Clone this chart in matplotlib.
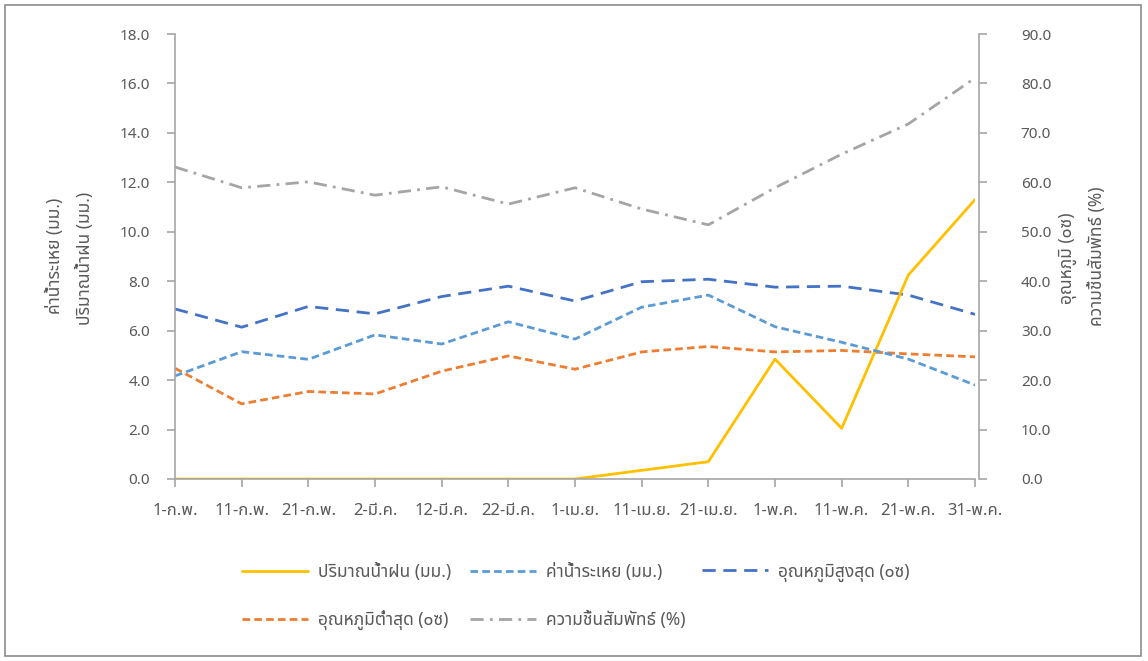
import matplotlib
matplotlib.use("Agg")
import matplotlib.pyplot as plt
from matplotlib import font_manager
from matplotlib.ft2font import FT2Font
from matplotlib.patches import Rectangle

# ---------------- data ----------------
dates = ["1-ก.พ.", "11-ก.พ.", "21-ก.พ.", "2-มี.ค.", "12-มี.ค.", "22-มี.ค.", "1-เม.ย.",
         "11-เม.ย.", "21-เม.ย.", "1-พ.ค.", "11-พ.ค.", "21-พ.ค.", "31-พ.ค."]
rain = [0.0, 0.0, 0.0, 0.0, 0.0, 0.0, 0.0, 0.35, 0.7, 4.85, 2.05, 8.25, 11.3]
evap = [4.17, 5.15, 4.84, 5.83, 5.46, 6.36, 5.66, 6.95, 7.44, 6.16, 5.53, 4.85, 3.8]
tmax = [34.4, 30.7, 34.9, 33.4, 36.9, 39.0, 36.0, 39.9, 40.4, 38.8, 39.0, 37.2, 33.3]
tmin = [22.4, 15.2, 17.7, 17.2, 21.8, 24.9, 22.2, 25.7, 26.8, 25.7, 26.0, 25.3, 24.7]
humid = [63.1, 58.9, 60.1, 57.4, 59.1, 55.6, 58.9, 54.6, 51.4, 58.9, 65.7, 71.8, 81.1]

left_ticks = [0, 2, 4, 6, 8, 10, 12, 14, 16, 18]
right_ticks = [0, 10, 20, 30, 40, 50, 60, 70, 80, 90]

lab_rain = "ปริมาณน้ำฝน (มม.)"
lab_evap = "ค่าน้ำระเหย (มม.)"
lab_tmax = "อุณหภูมิสูงสุด (๐ซ)"
lab_tmin = "อุณหภูมิต่ำสุด (๐ซ)"
lab_hum = "ความชื้นสัมพัทธ์ (%)"
ylab_left1 = "ค่าน้ำระเหย (มม.)"
ylab_left2 = "ปริมาณน้ำฝน (มม.)"
ylab_right1 = "อุณหภูมิ (๐ซ)"
ylab_right2 = "ความชื้นสัมพัทธ์ (%)"

# ---------------- font with Thai glyphs ----------------
def find_thai_family():
    prefs = []
    for f in font_manager.fontManager.ttflist:
        try:
            cm = FT2Font(f.fname).get_charmap()
        except Exception:
            continue
        if 0x0E01 in cm and 0x0E49 in cm:
            prefs.append(f.name)
    order = ["Noto Sans Thai", "Noto Sans Thai UI", "Noto Sans Thai Looped", "Leelawadee UI",
             "Sarabun", "Tlwg Typist", "Loma", "Garuda", "Norasi", "Waree", "DejaVu Sans"]
    for o in order:
        if o in prefs:
            return o
    return prefs[0] if prefs else None

thai = find_thai_family()
fams = ([thai] if thai else []) + ["DejaVu Sans"]
plt.rcParams['font.family'] = fams
plt.rcParams['lines.scale_dashes'] = False

TXT = "#595959"
AX = "#A6A6A6"
FS_NUM = 11
FS_X = 12
FS_T = 12.5

fig = plt.figure(figsize=(11.48, 6.61), dpi=100)
W, H = 1148, 661
ax = fig.add_axes([175 / W, 1 - 479 / H, 800 / W, 445 / H])
ax2 = ax.twinx()

x = list(range(len(dates)))

# left axis series
l_rain, = ax.plot(x, rain, color="#FFC000", lw=2.0, solid_capstyle="round")
l_evap, = ax.plot(x, evap, color="#5B9BD5", lw=2.0, dashes=(5.5, 3.0))
# right axis series
l_tmax, = ax2.plot(x, tmax, color="#4472C4", lw=2.0, dashes=(9.5, 5.5))
l_tmin, = ax2.plot(x, tmin, color="#ED7D31", lw=2.0, dashes=(5.5, 3.0))
l_hum, = ax2.plot(x, humid, color="#A5A5A5", lw=2.0, dashes=(9.5, 4.5, 2.0, 4.5))
ax.set_zorder(ax2.get_zorder() + 1)
ax.patch.set_visible(False)

ax.set_xlim(0, 12)
ax.set_ylim(0, 18)
ax2.set_ylim(0, 90)
ax.set_xticks(x)
ax.set_xticklabels(dates)
ax.set_yticks(left_ticks)
ax.set_yticklabels([f"{v:.1f}" for v in left_ticks])
ax2.set_yticks(right_ticks)
ax2.set_yticklabels([f"{v:.1f}" for v in right_ticks])

for a in (ax, ax2):
    for s in a.spines.values():
        s.set_visible(False)
ax.spines['left'].set_visible(True)
ax.spines['bottom'].set_visible(True)
ax2.spines['right'].set_visible(True)
ax2.spines['right'].set_position(('outward', 3))
for s in (ax.spines['left'], ax.spines['bottom'], ax2.spines['right']):
    s.set_color(AX)
    s.set_linewidth(1.2)

ax.tick_params(axis='x', direction='out', length=6, width=1.2, color=AX,
               labelcolor=TXT, labelsize=FS_X, pad=11)
ax.tick_params(axis='y', direction='out', length=6, width=1.2, color=AX,
               labelcolor=TXT, labelsize=FS_NUM, pad=12)
ax2.tick_params(axis='y', direction='out', length=6, width=1.2, color=AX,
                labelcolor=TXT, labelsize=FS_NUM, pad=24)

# axis titles
fig.text(55 / W, 1 - 256 / H, ylab_left1, rotation=90, ha='center', va='center',
         color=TXT, fontsize=FS_T)
fig.text(85 / W, 1 - 258 / H, ylab_left2, rotation=90, ha='center', va='center',
         color=TXT, fontsize=FS_T)
fig.text(1068 / W, 1 - 258 / H, ylab_right1, rotation=90, ha='center', va='center',
         color=TXT, fontsize=FS_T)
fig.text(1097 / W, 1 - 256 / H, ylab_right2, rotation=90, ha='center', va='center',
         color=TXT, fontsize=FS_T)

# legend: one entry per slot, placed like the reference
slots = [(l_rain, lab_rain, 242, 572), (l_evap, lab_evap, 470, 572),
         (l_tmax, lab_tmax, 702, 572), (l_tmin, lab_tmin, 242, 620),
         (l_hum, lab_hum, 470, 620)]
for h, lab, px, py in slots:
    lg = fig.legend([h], [lab], loc='center left', bbox_to_anchor=(px / W, 1 - py / H),
                    frameon=False, fontsize=FS_T, handlelength=3.8, handletextpad=0.55,
                    borderpad=0, borderaxespad=0)
    for t in lg.get_texts():
        t.set_color(TXT)

# outer border
fig.patches.append(Rectangle((5 / W, 5 / H), 1136 / W, 651 / H, transform=fig.transFigure,
                             fill=False, edgecolor="#8C8C8C", lw=1.2))

fig.savefig("out.png", dpi=100)
